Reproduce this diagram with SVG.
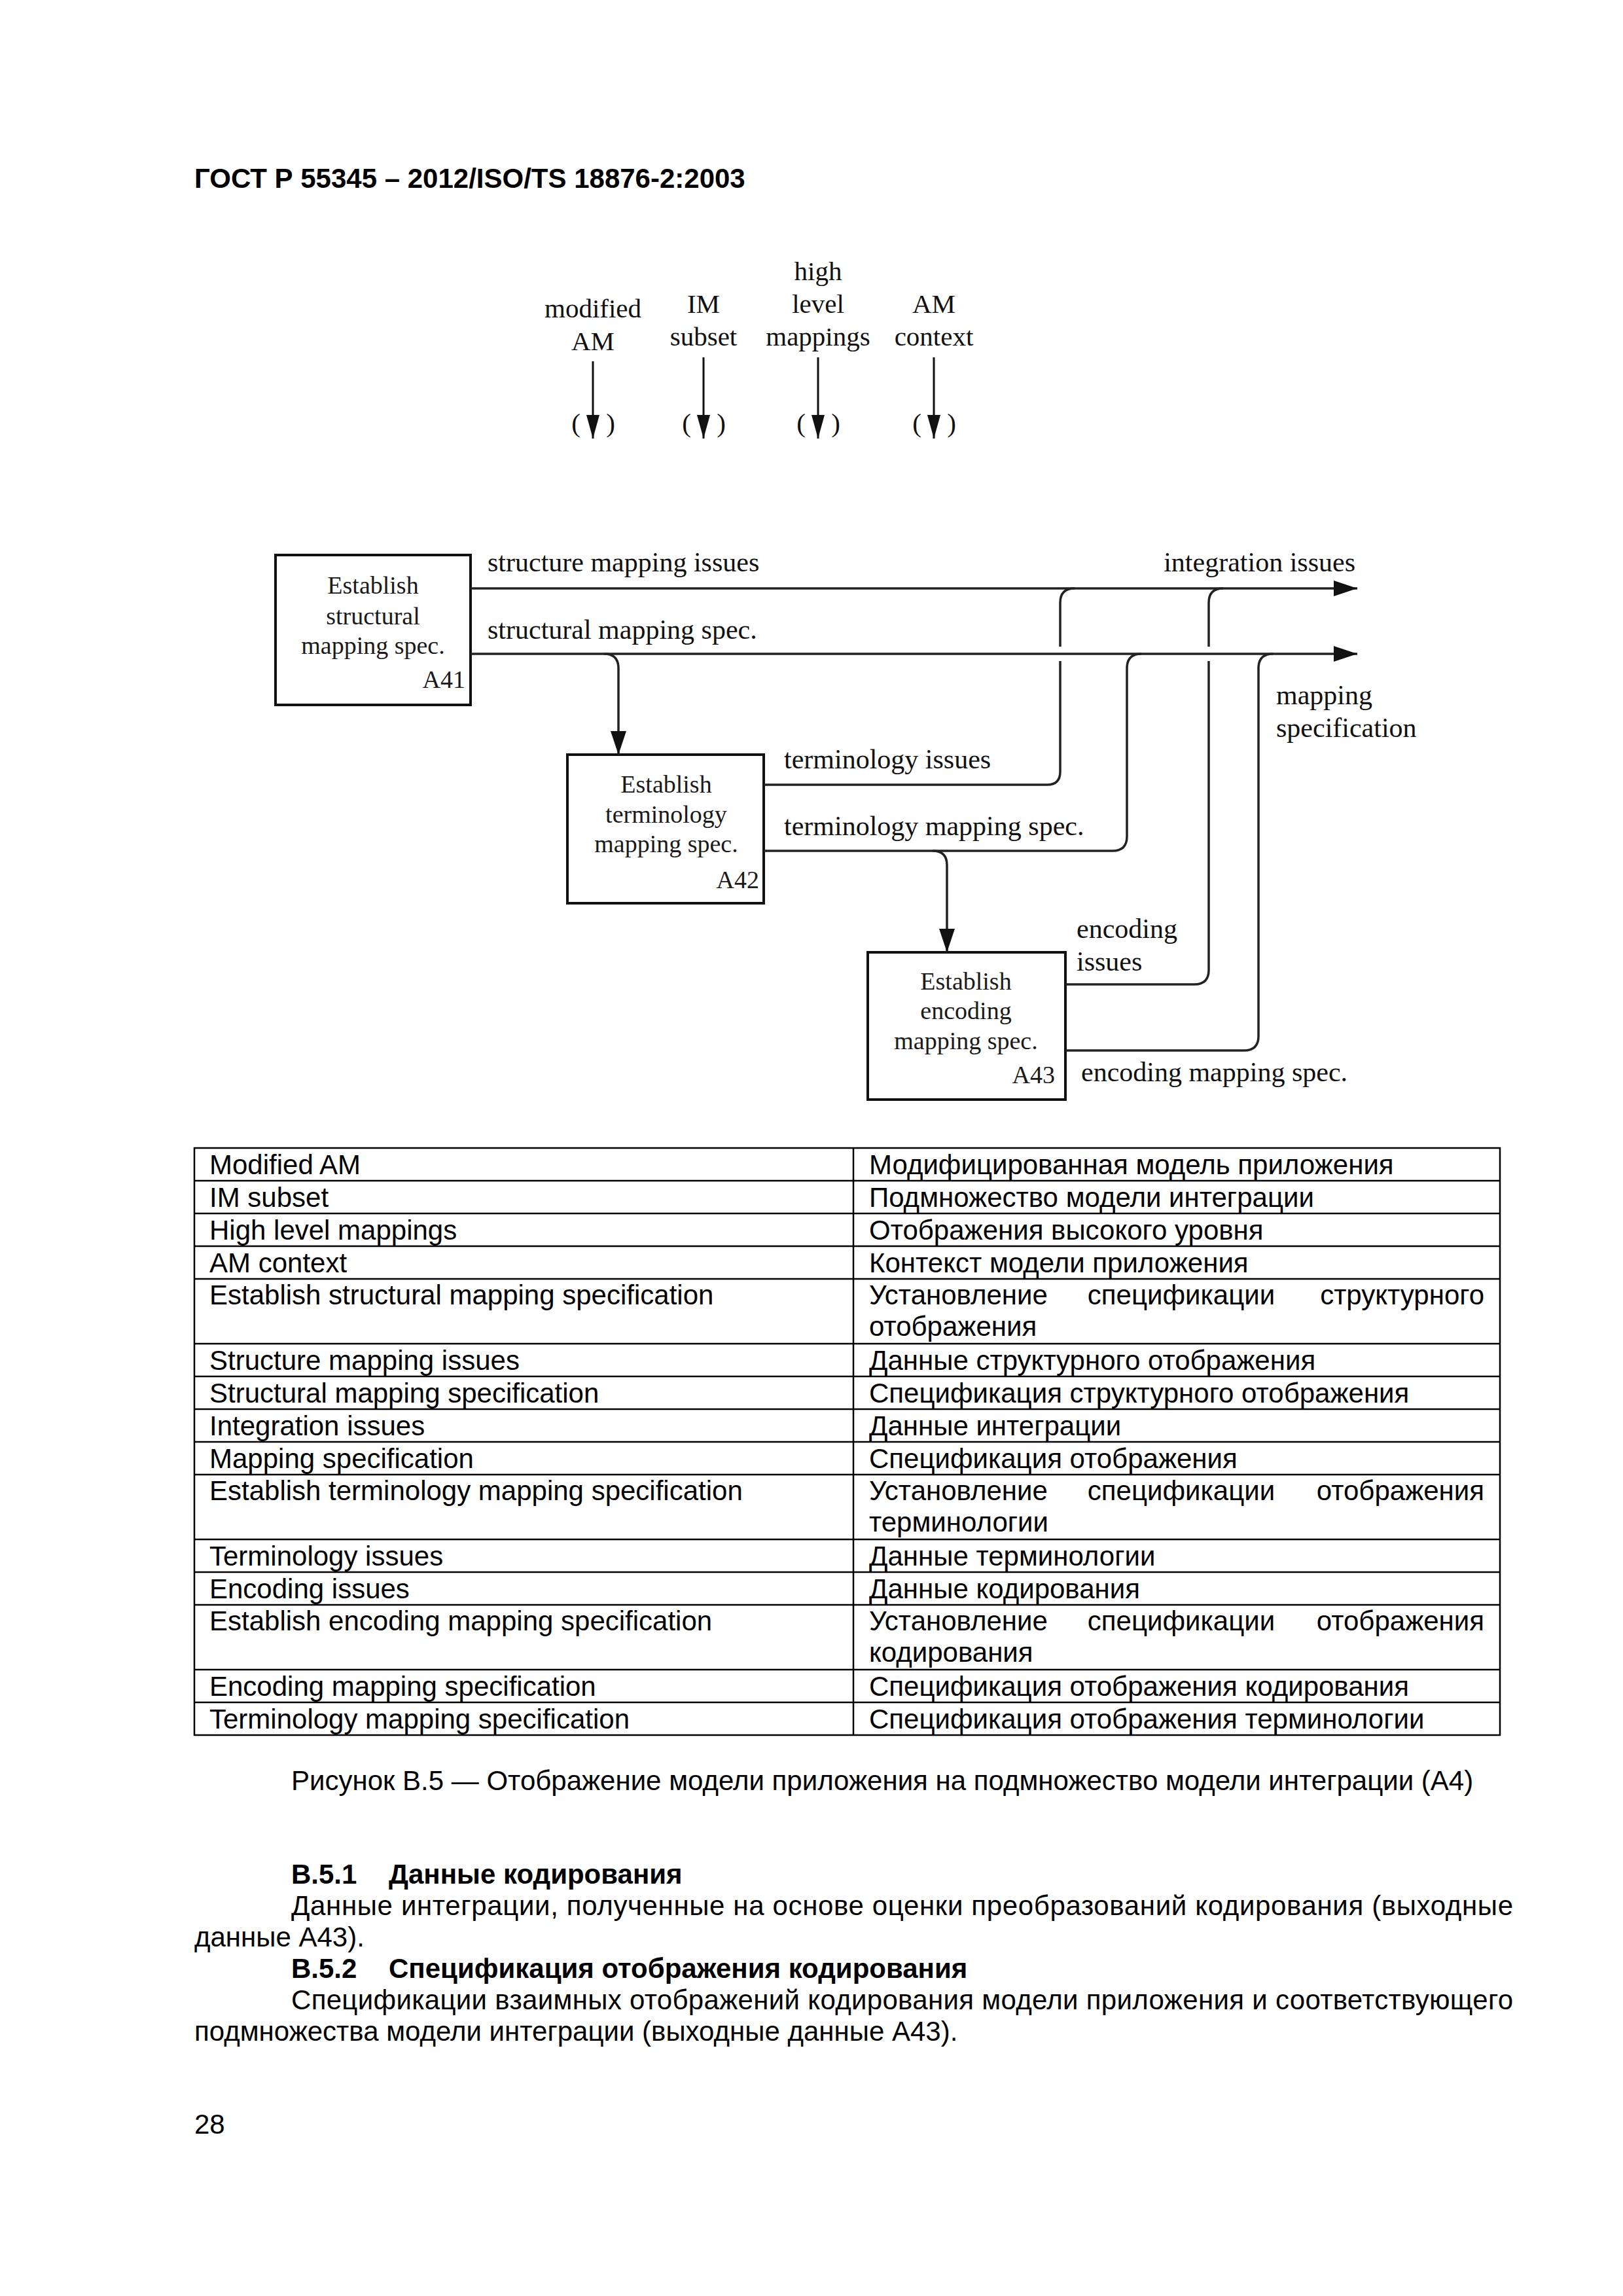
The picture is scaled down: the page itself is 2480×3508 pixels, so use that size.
<svg xmlns="http://www.w3.org/2000/svg" width="2480" height="3508" viewBox="0 0 2480 3508">
<style>
.box{fill:#fff;stroke:#111;stroke-width:4}
.bt{font-family:"Liberation Serif","Times New Roman",serif;font-size:38px;fill:#1a1a1a;text-anchor:middle}
.id{font-family:"Liberation Serif","Times New Roman",serif;font-size:38px;fill:#1a1a1a;text-anchor:end}
.lbl{font-family:"Liberation Serif","Times New Roman",serif;font-size:42px;fill:#111}
.in{font-family:"Liberation Serif","Times New Roman",serif;font-size:41px;fill:#111;text-anchor:middle}
.conn{fill:none;stroke:#222;stroke-width:3.5}
.inl{fill:none;stroke:#111;stroke-width:3}
.tbl{fill:none;stroke:#000;stroke-width:2.5}
.tt{font-family:"Liberation Sans",Arial,sans-serif;font-size:42px;fill:#000}
.bold{font-weight:bold}
</style>
<defs>
<marker id="arr" markerWidth="36" markerHeight="24" refX="36" refY="12" orient="auto" markerUnits="userSpaceOnUse"><path d="M0,0 L36,12 L0,24 z" fill="#111"/></marker>
<marker id="arrS" markerWidth="36" markerHeight="20" refX="36" refY="10" orient="auto" markerUnits="userSpaceOnUse"><path d="M0,0 L36,10 L0,20 z" fill="#111"/></marker>
</defs>
<rect x="0" y="0" width="2480" height="3508" fill="#fff"/>

<text class="tt bold" x="297" y="287">ГОСТ Р 55345 – 2012/ISO/TS 18876-2:2003</text>

<g id="inputs">
<text class="in" x="906" y="485">modified</text>
<text class="in" x="906" y="535">AM</text>
<text class="in" x="1075" y="478">IM</text>
<text class="in" x="1075" y="528">subset</text>
<text class="in" x="1250" y="428">high</text>
<text class="in" x="1250" y="478">level</text>
<text class="in" x="1250" y="528">mappings</text>
<text class="in" x="1427" y="478">AM</text>
<text class="in" x="1427" y="528">context</text>
<text class="in" x="880" y="660">(</text><text class="in" x="933" y="660">)</text>
<text class="in" x="1049" y="660">(</text><text class="in" x="1102" y="660">)</text>
<text class="in" x="1224" y="660">(</text><text class="in" x="1277" y="660">)</text>
<text class="in" x="1401" y="660">(</text><text class="in" x="1454" y="660">)</text>
</g>

<g id="A41">
<rect class="box" x="421" y="848" width="298" height="229"/>
<text class="bt" x="570" y="907">Establish</text>
<text class="bt" x="570" y="954">structural</text>
<text class="bt" x="570" y="999">mapping spec.</text>
<text class="id" x="711" y="1051">A41</text>
</g>
<g id="A42">
<rect class="box" x="867" y="1153" width="300" height="227"/>
<text class="bt" x="1018" y="1211">Establish</text>
<text class="bt" x="1018" y="1257">terminology</text>
<text class="bt" x="1018" y="1302">mapping spec.</text>
<text class="id" x="1160" y="1357">A42</text>
</g>
<g id="A43">
<rect class="box" x="1326" y="1455" width="302" height="225"/>
<text class="bt" x="1476" y="1512">Establish</text>
<text class="bt" x="1476" y="1557">encoding</text>
<text class="bt" x="1476" y="1603">mapping spec.</text>
<text class="id" x="1612" y="1655">A43</text>
</g>

<g id="connectors">
<path class="inl" d="M906,552 V670" marker-end="url(#arrS)"/>
<path class="inl" d="M1075,546 V670" marker-end="url(#arrS)"/>
<path class="inl" d="M1250,546 V670" marker-end="url(#arrS)"/>
<path class="inl" d="M1427,546 V670" marker-end="url(#arrS)"/>
<path class="conn" d="M719,899 H2074" marker-end="url(#arr)"/>
<path class="conn" d="M719,999 H2074" marker-end="url(#arr)"/>
<path class="conn" d="M923,999 Q945,999 945,1021 V1153" marker-end="url(#arr)"/>
<path class="conn" d="M1167,1199 H1600 Q1620,1199 1620,1179 V1010 M1620,988 V921 Q1620,899 1642,899"/>
<path class="conn" d="M1167,1300 H1700 Q1722,1300 1722,1278 V1021 Q1722,999 1744,999"/>
<path class="conn" d="M1425,1300 Q1447,1300 1447,1322 V1455" marker-end="url(#arr)"/>
<path class="conn" d="M1628,1504 H1825 Q1847,1504 1847,1482 V1010 M1847,988 V921 Q1847,899 1869,899"/>
<path class="conn" d="M1628,1605 H1901 Q1923,1605 1923,1583 V1021 Q1923,999 1945,999"/>
</g>

<g id="labels">
<text class="lbl" x="745" y="873">structure mapping issues</text>
<text class="lbl" x="745" y="976">structural mapping spec.</text>
<text class="lbl" x="2071" y="873" text-anchor="end">integration issues</text>
<text class="lbl" x="1950" y="1076">mapping</text>
<text class="lbl" x="1950" y="1126">specification</text>
<text class="lbl" x="1198" y="1174">terminology issues</text>
<text class="lbl" x="1198" y="1276">terminology mapping spec.</text>
<text class="lbl" x="1645" y="1433">encoding</text>
<text class="lbl" x="1645" y="1483">issues</text>
<text class="lbl" x="1652" y="1652">encoding mapping spec.</text>
</g>

<g id="legend-table">
<rect class="tbl" x="297" y="1754" width="1995" height="897"/>
<path class="tbl" d="M1304,1754 V2651 M297,1804 H2292 M297,1854 H2292 M297,1904 H2292 M297,1954 H2292 M297,2053 H2292 M297,2103 H2292 M297,2153 H2292 M297,2203 H2292 M297,2253 H2292 M297,2352 H2292 M297,2402 H2292 M297,2452 H2292 M297,2551 H2292 M297,2601 H2292"/>
<g class="tt">
<text x="320" y="1794">Modified AM</text>
<text x="320" y="1844">IM subset</text>
<text x="320" y="1894">High level mappings</text>
<text x="320" y="1944">AM context</text>
<text x="320" y="1993">Establish structural mapping specification</text>
<text x="320" y="2093">Structure mapping issues</text>
<text x="320" y="2143">Structural mapping specification</text>
<text x="320" y="2193">Integration issues</text>
<text x="320" y="2243">Mapping specification</text>
<text x="320" y="2292">Establish terminology mapping specification</text>
<text x="320" y="2392">Terminology issues</text>
<text x="320" y="2442">Encoding issues</text>
<text x="320" y="2491">Establish encoding mapping specification</text>
<text x="320" y="2591">Encoding mapping specification</text>
<text x="320" y="2641">Terminology mapping specification</text>

<text x="1328" y="1794">Модифицированная модель приложения</text>
<text x="1328" y="1844">Подмножество модели интеграции</text>
<text x="1328" y="1894">Отображения высокого уровня</text>
<text x="1328" y="1944">Контекст модели приложения</text>
<text x="1328" y="1993">Установление</text><text x="1805" y="1993" text-anchor="middle">спецификации</text><text x="2268" y="1993" text-anchor="end">структурного</text>
<text x="1328" y="2041">отображения</text>
<text x="1328" y="2093">Данные структурного отображения</text>
<text x="1328" y="2143">Спецификация структурного отображения</text>
<text x="1328" y="2193">Данные интеграции</text>
<text x="1328" y="2243">Спецификация отображения</text>
<text x="1328" y="2292">Установление</text><text x="1805" y="2292" text-anchor="middle">спецификации</text><text x="2268" y="2292" text-anchor="end">отображения</text>
<text x="1328" y="2340">терминологии</text>
<text x="1328" y="2392">Данные терминологии</text>
<text x="1328" y="2442">Данные кодирования</text>
<text x="1328" y="2491">Установление</text><text x="1805" y="2491" text-anchor="middle">спецификации</text><text x="2268" y="2491" text-anchor="end">отображения</text>
<text x="1328" y="2539">кодирования</text>
<text x="1328" y="2591">Спецификация отображения кодирования</text>
<text x="1328" y="2641">Спецификация отображения терминологии</text>
</g>
</g>

<g id="body-text" class="tt">
<text x="445" y="2735">Рисунок В.5 — Отображение модели приложения на подмножество модели интеграции (А4)</text>
<text class="bold" x="445" y="2878">В.5.1</text>
<text class="bold" x="594" y="2878">Данные кодирования</text>
<text x="445" y="2926" textLength="1867" lengthAdjust="spacing">Данные интеграции, полученные на основе оценки преобразований кодирования (выходные</text>
<text x="297" y="2974">данные А43).</text>
<text class="bold" x="445" y="3022">В.5.2</text>
<text class="bold" x="594" y="3022">Спецификация отображения кодирования</text>
<text x="445" y="3070" textLength="1867" lengthAdjust="spacing">Спецификации взаимных отображений кодирования модели приложения и соответствующего</text>
<text x="297" y="3118">подмножества модели интеграции (выходные данные А43).</text>
<text x="297" y="3260">28</text>
</g>
</svg>
